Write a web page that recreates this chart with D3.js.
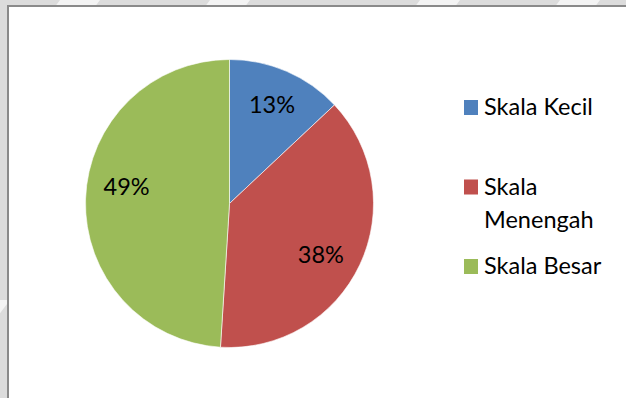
<!DOCTYPE html>
<html>
<head>
<meta charset="utf-8">
<script src="https://cdn.jsdelivr.net/npm/d3@7"></script>
<style>
  body { margin: 0; background: #fff; }
  svg { display: block; font-family: Lato, "Open Sans", sans-serif; }
</style>
</head>
<body>
<svg id="drawSpace"></svg>
<script>
// Global settings
let drawSpaceW = 626
let drawSpaceH = 398
let fontSize = 23.5

// Chart data
let categories = ["Skala Kecil", "Skala Menengah", "Skala Besar"]
let shares = [13, 38, 49]
let colors = ["#4F81BD", "#C0504D", "#9BBB59"]
let legendLines = [["Skala Kecil"], ["Skala", "Menengah"], ["Skala Besar"]]

let svg = d3.select("#drawSpace")
    .attr("width", drawSpaceW)
    .attr("height", drawSpaceH)

// Grey page behind the chart, with faint watermark bands
svg.append("rect")
    .attr("width", drawSpaceW).attr("height", drawSpaceH)
    .attr("fill", "#dcdcdc")
let bands = [[60, 0], [210, 0], [420, 0], [560, 0], [-30, 300]]
svg.selectAll("path.band")
    .data(bands)
    .enter()
    .append("path")
    .attr("class", "band")
    .attr("d", d => `M${d[0]},${d[1]} l40,0 l-30,40 l-40,0 z`)
    .attr("fill", "#f4f4f4")

// Chart area with border
svg.append("rect")
    .attr("x", 8).attr("y", 6)
    .attr("width", drawSpaceW).attr("height", drawSpaceH)
    .attr("fill", "white")
    .attr("stroke", "#8a8a8a")
    .attr("stroke-width", 2)

// Pie
let cx = 229.5, cy = 203.5, radius = 144
let pie = d3.pie().sort(null).value(d => d)
let arc = d3.arc().innerRadius(0).outerRadius(radius)
let slices = pie(shares)

let pieGroup = svg.append("g").attr("transform", `translate(${cx},${cy})`)
pieGroup.selectAll("path")
    .data(slices)
    .enter()
    .append("path")
    .attr("d", arc)
    .attr("fill", (d, i) => colors[i])
    .attr("stroke", "white")
    .attr("stroke-width", 0.6)

// Percent labels, placed along each slice's mid angle (Excel "best fit" nudges)
let labelRadius = [107, 101, 103]
let nudgeY = [0, 8, -13]
pieGroup.selectAll("text")
    .data(slices)
    .enter()
    .append("text")
    .attr("x", (d, i) => Math.sin((d.startAngle + d.endAngle) / 2) * labelRadius[i])
    .attr("y", (d, i) => -Math.cos((d.startAngle + d.endAngle) / 2) * labelRadius[i] + 8 + nudgeY[i])
    .attr("text-anchor", "middle")
    .attr("font-size", fontSize)
    .attr("fill", "#000")
    .text(d => d.data + "%")

// Legend
let legendY = d3.scalePoint().domain(categories).range([115, 274])
let legend = svg.append("g")
legend.selectAll("rect")
    .data(categories)
    .enter()
    .append("rect")
    .attr("x", 464)
    .attr("y", d => legendY(d) - 15)
    .attr("width", 14).attr("height", 15)
    .attr("fill", (d, i) => colors[i])

legend.selectAll("text")
    .data(categories)
    .enter()
    .append("text")
    .attr("x", 484)
    .attr("y", d => legendY(d))
    .attr("font-size", fontSize)
    .attr("fill", "#000")
    .each(function (d, i) {
        let t = d3.select(this)
        legendLines[i].forEach((line, j) => {
            t.append("tspan").attr("x", 484).attr("dy", j === 0 ? 0 : 33).text(line)
        })
    })
</script>
</body>
</html>
